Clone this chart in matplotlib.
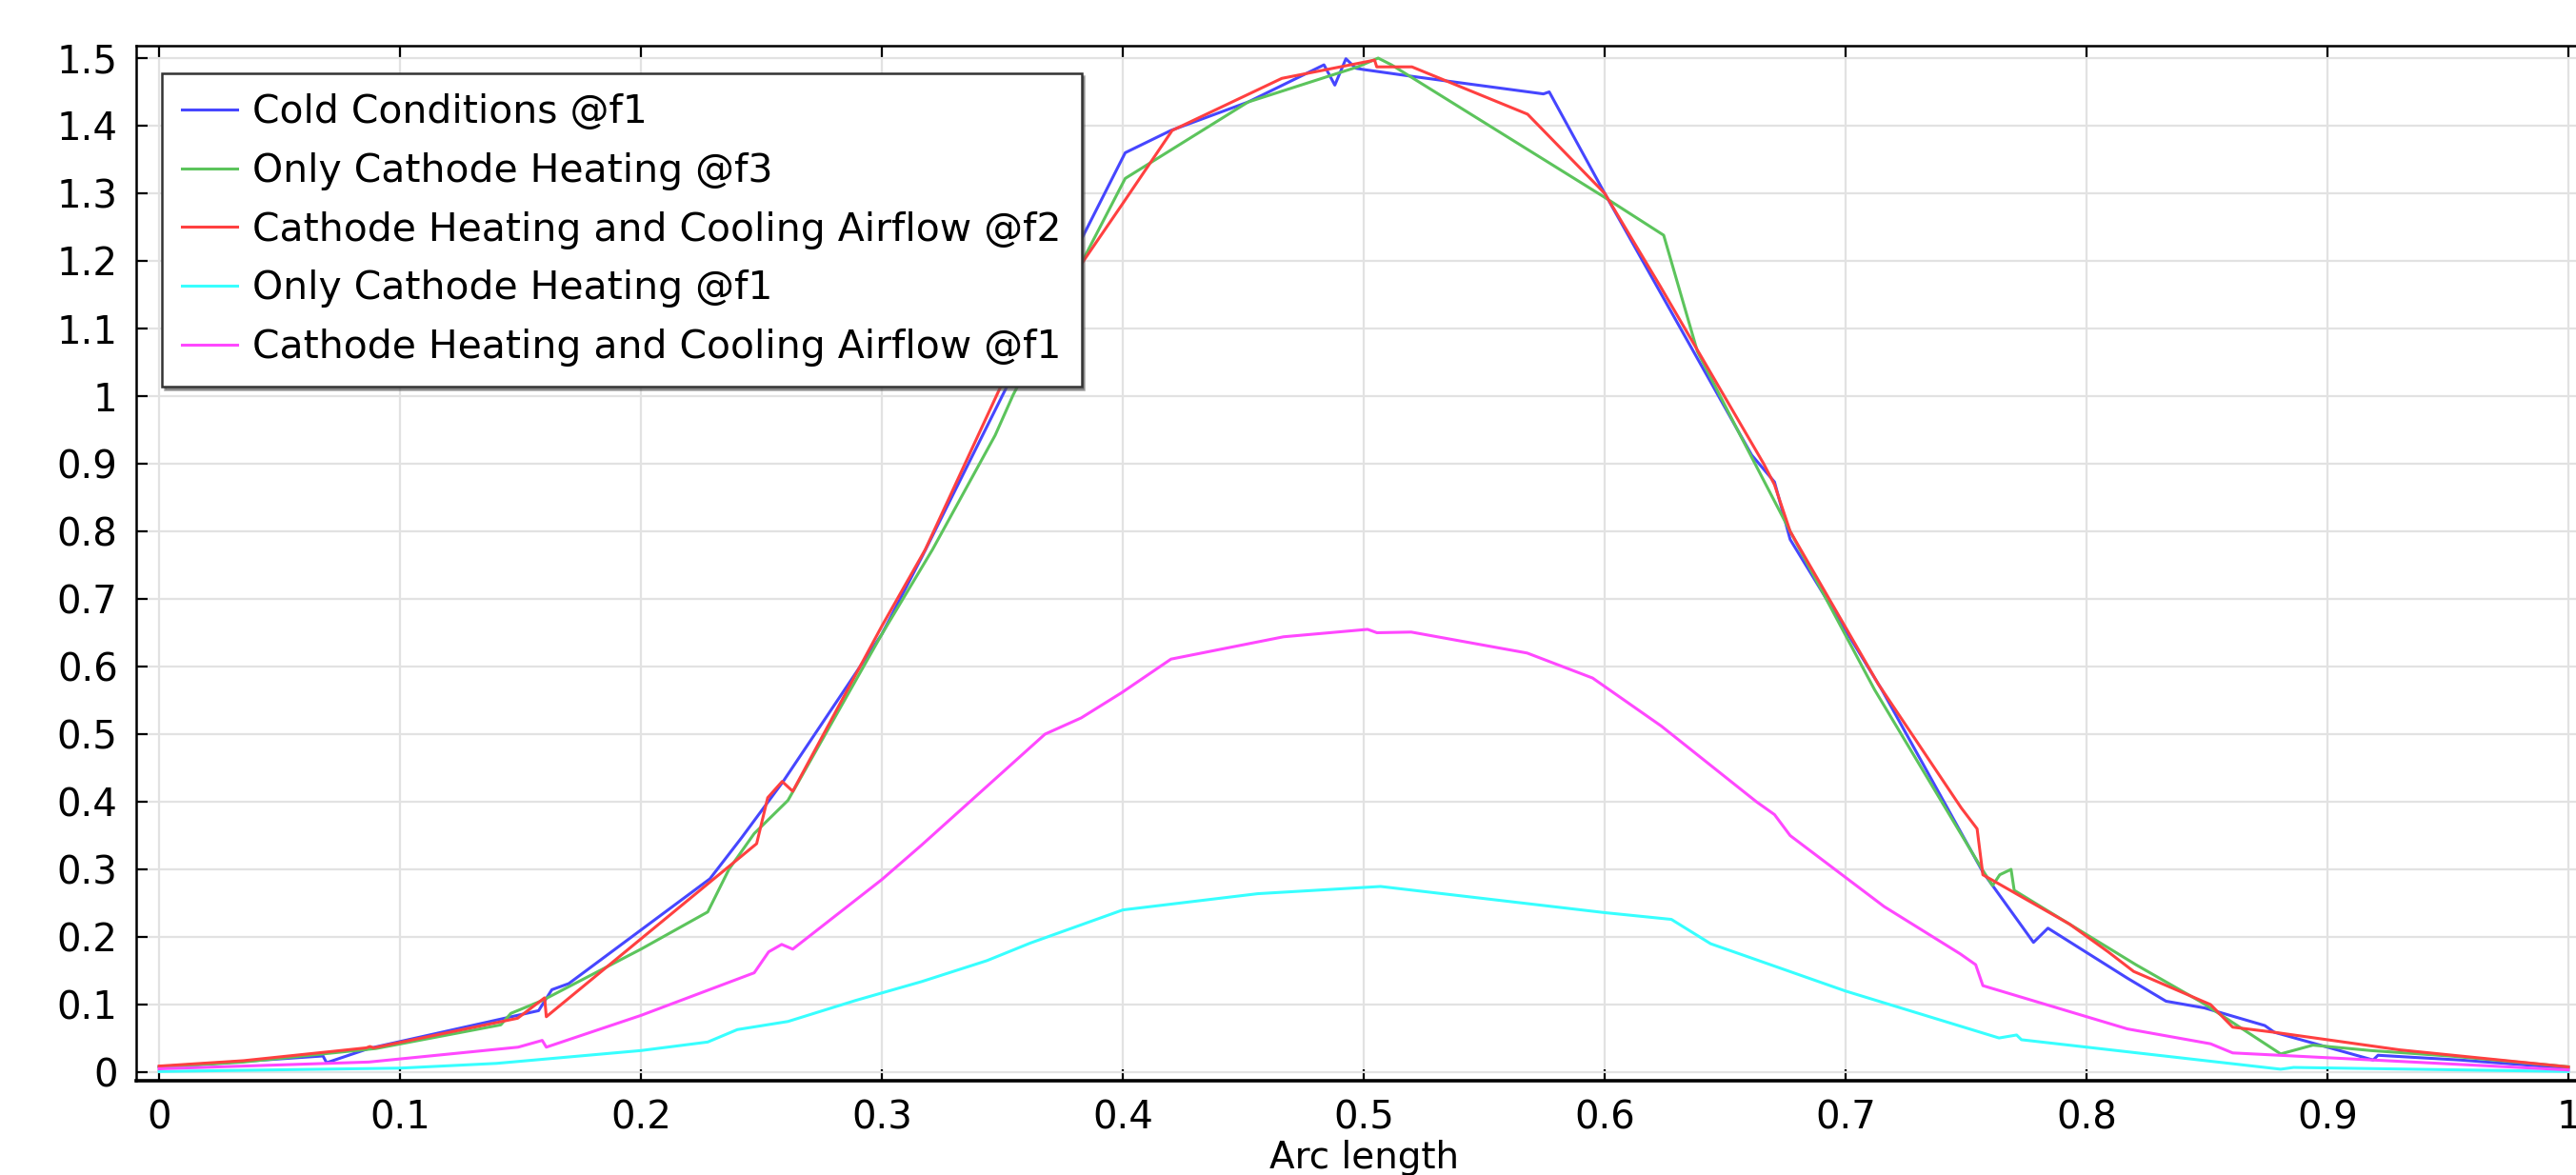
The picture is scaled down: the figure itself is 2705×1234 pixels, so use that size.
import matplotlib
matplotlib.use("Agg")
import matplotlib.pyplot as plt
from matplotlib.ticker import MultipleLocator

# values (arc length, value)
cold_f1_x = [0, 0.035, 0.068, 0.0695, 0.087, 0.1575, 0.163, 0.170, 0.2286, 0.2418, 0.259, 0.30, 0.317, 0.352,
             0.401, 0.42, 0.452, 0.4835, 0.488, 0.4926, 0.4967, 0.5, 0.52, 0.5746, 0.577, 0.6, 0.661, 0.6705,
             0.677, 0.715, 0.757, 0.778, 0.784, 0.817, 0.833, 0.849, 0.874, 0.878, 0.919, 0.921, 0.955, 1.0]
cold_f1_y = [0.008, 0.016, 0.024, 0.014, 0.035, 0.091, 0.122, 0.131, 0.286, 0.347, 0.43, 0.648, 0.765, 1.015,
             1.36, 1.393, 1.435, 1.49, 1.46, 1.499, 1.485, 1.483, 1.473, 1.447, 1.45, 1.30, 0.913, 0.873,
             0.788, 0.566, 0.296, 0.192, 0.213, 0.139, 0.105, 0.095, 0.069, 0.059, 0.018, 0.025, 0.018, 0.006]

heat_f3_x = [0, 0.035, 0.09, 0.1418, 0.146, 0.159, 0.2, 0.2277, 0.2365, 0.247, 0.261, 0.30, 0.321, 0.347,
             0.3545, 0.401, 0.452, 0.4975, 0.506, 0.5115, 0.6, 0.6245, 0.6385, 0.6547, 0.677, 0.712, 0.7567,
             0.761, 0.764, 0.7687, 0.770, 0.8205, 0.848, 0.8806, 0.894, 0.918, 0.952, 1.0]
heat_f3_y = [0.007, 0.015, 0.035, 0.07, 0.087, 0.106, 0.182, 0.237, 0.30, 0.353, 0.402, 0.648, 0.773, 0.942,
             1.002, 1.322, 1.435, 1.487, 1.50, 1.49, 1.294, 1.238, 1.066, 0.953, 0.80, 0.566, 0.30,
             0.276, 0.292, 0.30, 0.269, 0.159, 0.103, 0.027, 0.04, 0.032, 0.0236, 0.008]

cool_f2_x = [0, 0.035, 0.086, 0.0875, 0.089, 0.1488, 0.16, 0.1607, 0.248, 0.2526, 0.2586, 0.263, 0.3, 0.318,
             0.3515, 0.381, 0.4, 0.4205, 0.466, 0.5045, 0.5054, 0.52, 0.568, 0.6, 0.623, 0.666, 0.6705, 0.677,
             0.7136, 0.748, 0.7546, 0.757, 0.793, 0.809, 0.8196, 0.8515, 0.8607, 0.878, 0.93, 1.0]
cool_f2_y = [0.009, 0.017, 0.036, 0.038, 0.036, 0.0798, 0.11, 0.082, 0.338, 0.406, 0.43, 0.4155, 0.66, 0.773,
             1.031, 1.186, 1.285, 1.393, 1.47, 1.497, 1.487, 1.487, 1.417, 1.30, 1.163, 0.90, 0.869, 0.80,
             0.574, 0.391, 0.36, 0.292, 0.219, 0.178, 0.149, 0.10, 0.0666, 0.059, 0.033, 0.0078]

heat_f1_x = [0, 0.1, 0.14, 0.2, 0.2277, 0.24, 0.261, 0.289, 0.3165, 0.3436, 0.3616, 0.40, 0.456, 0.507, 0.6,
             0.6277, 0.644, 0.66, 0.7, 0.7637, 0.771, 0.773, 0.8806, 0.886, 1.0]
heat_f1_y = [0.001, 0.006, 0.013, 0.032, 0.0446, 0.063, 0.075, 0.106, 0.134, 0.165, 0.191, 0.240, 0.264, 0.2747,
             0.236, 0.226, 0.19, 0.17, 0.12, 0.0506, 0.055, 0.048, 0.0044, 0.007, 0.001]

cool_f1_x = [0, 0.087, 0.149, 0.159, 0.1607, 0.2, 0.247, 0.253, 0.2584, 0.263, 0.3, 0.3165, 0.3677, 0.3827,
             0.3996, 0.42, 0.4667, 0.5016, 0.5055, 0.5197, 0.5678, 0.595, 0.6235, 0.663, 0.6705, 0.677, 0.716,
             0.7476, 0.754, 0.757, 0.817, 0.8515, 0.8607, 0.93, 1.0]
cool_f1_y = [0.005, 0.015, 0.037, 0.047, 0.037, 0.084, 0.147, 0.178, 0.189, 0.182, 0.285, 0.336, 0.50, 0.524,
             0.5615, 0.611, 0.644, 0.655, 0.650, 0.651, 0.620, 0.583, 0.512, 0.40, 0.381, 0.35, 0.245,
             0.175, 0.159, 0.128, 0.064, 0.042, 0.0285, 0.016, 0.0033]

labels = ["Cold Conditions @f1", "Only Cathode Heating @f3", "Cathode Heating and Cooling Airflow @f2",
          "Only Cathode Heating @f1", "Cathode Heating and Cooling Airflow @f1"]
colors = ["#4646ff", "#5cc45c", "#ff4040", "#38ffff", "#ff48ff"]

plt.rcParams["font.family"] = "DejaVu Sans"

fig = plt.figure(figsize=(27.05, 12.34), dpi=100)
ax = fig.add_axes([0.0529, 0.0802, 0.9530, 0.8809])

series = [(cold_f1_x, cold_f1_y), (heat_f3_x, heat_f3_y), (cool_f2_x, cool_f2_y),
          (heat_f1_x, heat_f1_y), (cool_f1_x, cool_f1_y)]
for (xs, ys), lab, col in zip(series, labels, colors):
    ax.plot(xs, ys, color=col, lw=2.2, label=lab)

ax.set_xlim(-0.0095, 1.0095)
ax.set_ylim(-0.0127, 1.5183)
ax.xaxis.set_major_locator(MultipleLocator(0.1))
ax.yaxis.set_major_locator(MultipleLocator(0.1))
fmt = lambda v, p: "%g" % round(v, 2)
ax.xaxis.set_major_formatter(plt.FuncFormatter(fmt))
ax.yaxis.set_major_formatter(plt.FuncFormatter(fmt))

ax.grid(True, color="#e2e2e2", lw=1.6)
ax.set_axisbelow(True)
ax.tick_params(direction="in", length=8.5, width=1.6, top=True, right=True, labelsize=29, pad=14)
for s in ax.spines.values():
    s.set_linewidth(1.8)
ax.spines["bottom"].set_linewidth(2.6)

ax.set_xlabel("Arc length", fontsize=28, labelpad=2)

leg = ax.legend(loc="upper left", bbox_to_anchor=(0.0105, 0.9733), borderaxespad=0, fontsize=29.4,
                fancybox=False, shadow=True, edgecolor="#333333", framealpha=1,
                handlelength=1.4, handletextpad=0.4, labelspacing=0.53, borderpad=0.52)
leg.get_frame().set_linewidth(1.8)

fig.savefig("out.png", dpi=100)
